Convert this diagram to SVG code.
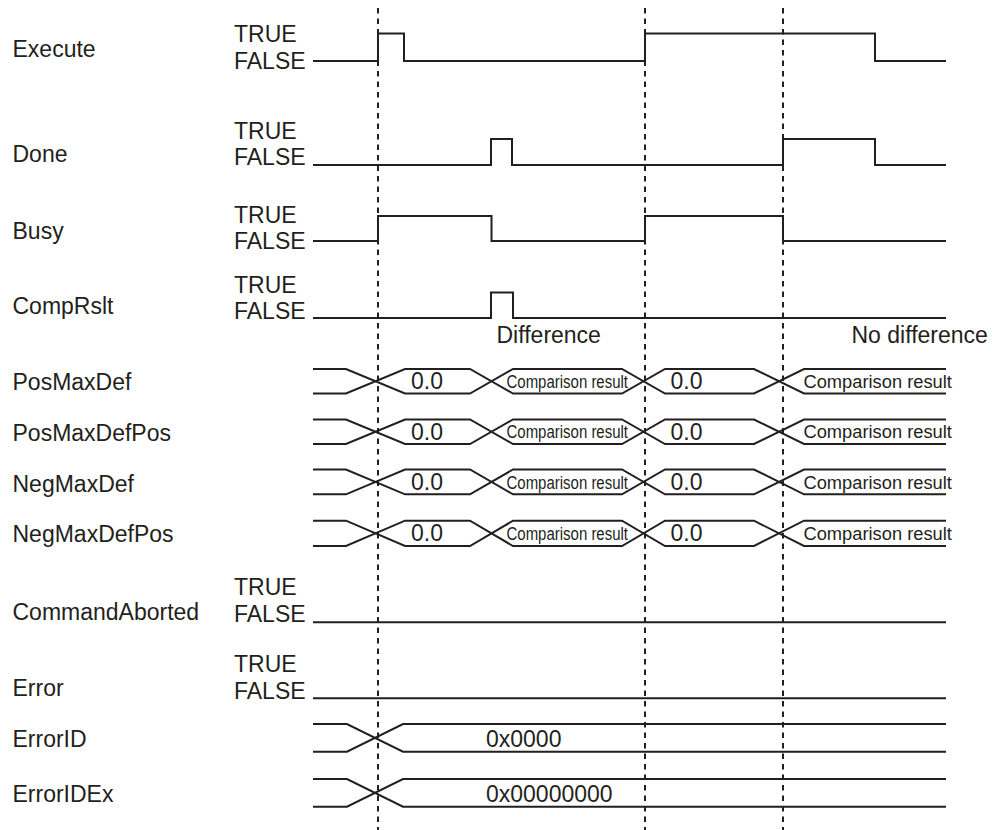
<svg xmlns="http://www.w3.org/2000/svg" width="995" height="830" viewBox="0 0 995 830">
<style>
  text { font-family: "Liberation Sans", Arial, sans-serif; fill: #231f20; }
  .lbl { font-size: 23px; }
  .tf { font-size: 23px; }
  .val { font-size: 23px; }
  .cmp { font-size: 18.3px; }
  .sig { fill: none; stroke: #231f20; stroke-width: 2; stroke-linejoin: miter; }
  .mark { fill: none; stroke: #231f20; stroke-width: 2; stroke-dasharray: 5.5 5; }
</style>
<rect width="995" height="830" fill="#ffffff"/>

<g id="execute">
  <text class="lbl" x="12.5" y="57">Execute</text>
  <text class="tf" x="234" y="42">TRUE</text>
  <text class="tf" x="234" y="68.5">FALSE</text>
  <path class="sig" d="M313,61 H378 V33.5 H404 V61 H645 V33.5 H875 V61 H946"/>
</g>

<g id="done">
  <text class="lbl" x="12.5" y="162">Done</text>
  <text class="tf" x="234" y="138.5">TRUE</text>
  <text class="tf" x="234" y="165">FALSE</text>
  <path class="sig" d="M313,165 H491 V139 H512 V165 H783 V139 H875 V165 H946"/>
</g>

<g id="busy">
  <text class="lbl" x="12.5" y="238.5">Busy</text>
  <text class="tf" x="234" y="222.5">TRUE</text>
  <text class="tf" x="234" y="249">FALSE</text>
  <path class="sig" d="M313,241 H378 V216 H491.5 V241 H645 V216 H783 V241 H946"/>
</g>

<g id="comprslt">
  <text class="lbl" x="12.5" y="314">CompRslt</text>
  <text class="tf" x="234" y="292.5">TRUE</text>
  <text class="tf" x="234" y="319">FALSE</text>
  <path class="sig" d="M313,318 H491 V292.5 H513 V318 H946"/>
  <text class="val" x="496.5" y="342.5">Difference</text>
  <text class="val" x="851.5" y="342.5">No difference</text>
</g>

<g id="posmaxdef">
  <text class="lbl" x="12.5" y="390">PosMaxDef</text>
  <path class="sig" d="M313,369 H346 L405,393.5 H470 L513,369 H622 L665,393.5 H754 L804,369 H946"/>
  <path class="sig" d="M313,393.5 H346 L405,369 H470 L513,393.5 H622 L665,369 H754 L804,393.5 H946"/>
  <text class="val" x="411" y="389">0.0</text>
  <text class="cmp" x="506.5" y="387.7" textLength="121.5" lengthAdjust="spacingAndGlyphs">Comparison result</text>
  <text class="val" x="670.5" y="389">0.0</text>
  <text class="cmp" x="803.5" y="387.7">Comparison result</text>
</g>

<g id="posmaxdefpos">
  <text class="lbl" x="12.5" y="440.5">PosMaxDefPos</text>
  <path class="sig" d="M313,419.5 H346 L405,444 H470 L513,419.5 H622 L665,444 H754 L804,419.5 H946"/>
  <path class="sig" d="M313,444 H346 L405,419.5 H470 L513,444 H622 L665,419.5 H754 L804,444 H946"/>
  <text class="val" x="411" y="439.5">0.0</text>
  <text class="cmp" x="506.5" y="438.3" textLength="121.5" lengthAdjust="spacingAndGlyphs">Comparison result</text>
  <text class="val" x="670.5" y="439.5">0.0</text>
  <text class="cmp" x="803.5" y="438.3">Comparison result</text>
</g>

<g id="negmaxdef">
  <text class="lbl" x="12.5" y="491.5">NegMaxDef</text>
  <path class="sig" d="M313,469.5 H346 L405,494.3 H470 L513,469.5 H622 L665,494.3 H754 L804,469.5 H946"/>
  <path class="sig" d="M313,494.3 H346 L405,469.5 H470 L513,494.3 H622 L665,469.5 H754 L804,494.3 H946"/>
  <text class="val" x="411" y="490">0.0</text>
  <text class="cmp" x="506.5" y="488.7" textLength="121.5" lengthAdjust="spacingAndGlyphs">Comparison result</text>
  <text class="val" x="670.5" y="490">0.0</text>
  <text class="cmp" x="803.5" y="488.7">Comparison result</text>
</g>

<g id="negmaxdefpos">
  <text class="lbl" x="12.5" y="541.5">NegMaxDefPos</text>
  <path class="sig" d="M313,520.7 H346 L405,546 H470 L513,520.7 H622 L665,546 H754 L804,520.7 H946"/>
  <path class="sig" d="M313,546 H346 L405,520.7 H470 L513,546 H622 L665,520.7 H754 L804,546 H946"/>
  <text class="val" x="411" y="541">0.0</text>
  <text class="cmp" x="506.5" y="540" textLength="121.5" lengthAdjust="spacingAndGlyphs">Comparison result</text>
  <text class="val" x="670.5" y="541">0.0</text>
  <text class="cmp" x="803.5" y="540">Comparison result</text>
</g>

<g id="commandaborted">
  <text class="lbl" x="12.5" y="619.5">CommandAborted</text>
  <text class="tf" x="234" y="595">TRUE</text>
  <text class="tf" x="234" y="621.5">FALSE</text>
  <path class="sig" d="M313,622.3 H946"/>
</g>

<g id="error">
  <text class="lbl" x="12.5" y="695.5">Error</text>
  <text class="tf" x="234" y="672">TRUE</text>
  <text class="tf" x="234" y="698.5">FALSE</text>
  <path class="sig" d="M313,698.3 H946"/>
</g>

<g id="errorid">
  <text class="lbl" x="12.5" y="747">ErrorID</text>
  <path class="sig" d="M313,724 H347 L403,751.7 H946"/>
  <path class="sig" d="M313,751.7 H347 L403,724 H946"/>
  <text class="val" x="486" y="746.7">0x0000</text>
</g>

<g id="errorid-ex">
  <text class="lbl" x="12.5" y="802">ErrorIDEx</text>
  <path class="sig" d="M313,779 H347 L403,806.7 H946"/>
  <path class="sig" d="M313,806.7 H347 L403,779 H946"/>
  <text class="val" x="486" y="801.7">0x00000000</text>
</g>

<g id="connectors">
  <line class="mark" x1="378" y1="8" x2="378" y2="830"/>
  <line class="mark" x1="645" y1="8" x2="645" y2="830"/>
  <line class="mark" x1="783" y1="8" x2="783" y2="830"/>
</g>
</svg>
